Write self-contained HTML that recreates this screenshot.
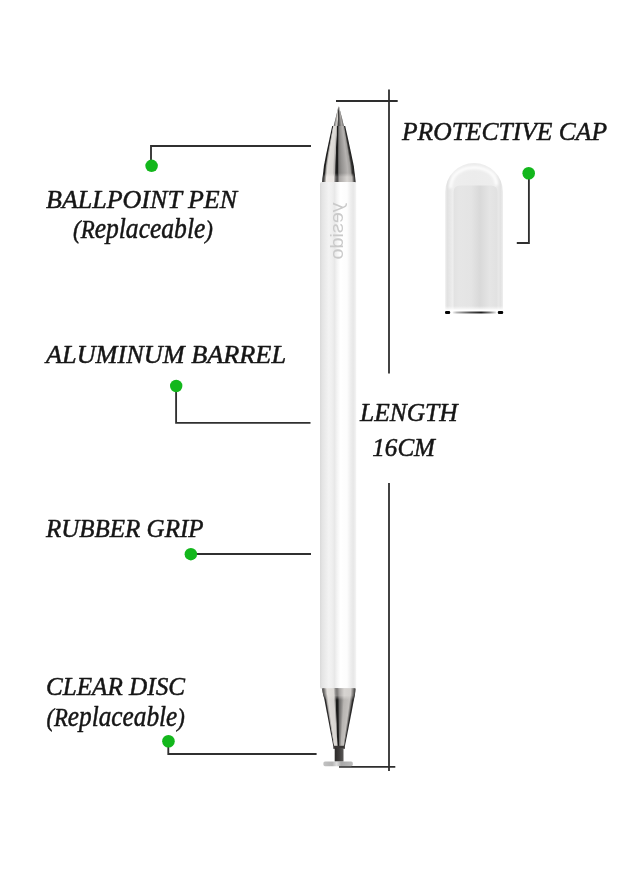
<!DOCTYPE html>
<html>
<head>
<meta charset="utf-8">
<title>Stylus pen diagram</title>
<style>
  html, body { margin: 0; padding: 0; background: #ffffff; }
  body { width: 640px; height: 873px; overflow: hidden; font-family: "Liberation Serif", serif; }
  svg { display: block; }
  .lbl { font-family: "Liberation Serif", serif; font-style: italic; fill: #161616; stroke: #161616; stroke-width: 0.5px; stroke-linejoin: round; }
  .lc { font-size: 29px; }
  .logo { font-family: "Liberation Sans", sans-serif; fill: #cacaca; }
</style>
</head>
<body>
<svg width="640" height="873" viewBox="0 0 640 873">
  <defs>
    <linearGradient id="gnib" x1="0" x2="1" y1="0" y2="0"><stop offset="0.000" stop-color="#464544"/><stop offset="0.120" stop-color="#a09e9b"/><stop offset="0.320" stop-color="#dcd9d5"/><stop offset="0.420" stop-color="#3c3b3a"/><stop offset="0.520" stop-color="#5a5957"/><stop offset="0.800" stop-color="#afacaa"/><stop offset="0.920" stop-color="#82807e"/><stop offset="1.000" stop-color="#464544"/></linearGradient>
    <linearGradient id="gtop" x1="0" x2="1" y1="0" y2="0"><stop offset="0.000" stop-color="#1e1e1d"/><stop offset="0.050" stop-color="#222121"/><stop offset="0.085" stop-color="#a5a3a0"/><stop offset="0.130" stop-color="#e2dfdb"/><stop offset="0.300" stop-color="#dad7d3"/><stop offset="0.370" stop-color="#aaa7a5"/><stop offset="0.400" stop-color="#1e1e1d"/><stop offset="0.455" stop-color="#1a1a19"/><stop offset="0.500" stop-color="#7d7b79"/><stop offset="0.600" stop-color="#969492"/><stop offset="0.780" stop-color="#b6b3b1"/><stop offset="0.870" stop-color="#a09e9b"/><stop offset="0.930" stop-color="#323130"/><stop offset="1.000" stop-color="#1a1a19"/></linearGradient>
    <linearGradient id="gband" x1="0" x2="1" y1="0" y2="0"><stop offset="0.000" stop-color="#282727"/><stop offset="0.050" stop-color="#5a5957"/><stop offset="0.120" stop-color="#f0ece9"/><stop offset="0.340" stop-color="#ebe7e4"/><stop offset="0.400" stop-color="#6e6c6b"/><stop offset="0.450" stop-color="#464544"/><stop offset="0.520" stop-color="#aaa7a5"/><stop offset="0.750" stop-color="#d7d4d1"/><stop offset="0.900" stop-color="#bebbb8"/><stop offset="0.960" stop-color="#504f4e"/><stop offset="1.000" stop-color="#242323"/></linearGradient>
    <linearGradient id="gbot" x1="0" x2="1" y1="0" y2="0"><stop offset="0.000" stop-color="#242323"/><stop offset="0.040" stop-color="#2c2b2b"/><stop offset="0.080" stop-color="#aaa7a5"/><stop offset="0.130" stop-color="#dedbd7"/><stop offset="0.320" stop-color="#d6d3d0"/><stop offset="0.370" stop-color="#82807e"/><stop offset="0.395" stop-color="#1c1c1b"/><stop offset="0.455" stop-color="#1a1a19"/><stop offset="0.500" stop-color="#696766"/><stop offset="0.580" stop-color="#8c8a88"/><stop offset="0.660" stop-color="#b8b5b2"/><stop offset="0.850" stop-color="#c4c1be"/><stop offset="0.910" stop-color="#787674"/><stop offset="0.955" stop-color="#2c2b2b"/><stop offset="1.000" stop-color="#242323"/></linearGradient>
    <linearGradient id="gbotband" x1="0" x2="1" y1="0" y2="0"><stop offset="0.000" stop-color="#464544"/><stop offset="0.060" stop-color="#82807e"/><stop offset="0.140" stop-color="#e4e1dd"/><stop offset="0.340" stop-color="#dcd9d5"/><stop offset="0.390" stop-color="#969492"/><stop offset="0.440" stop-color="#787674"/><stop offset="0.520" stop-color="#aaa7a5"/><stop offset="0.660" stop-color="#d7d4d1"/><stop offset="0.860" stop-color="#d2cfcc"/><stop offset="0.940" stop-color="#787674"/><stop offset="1.000" stop-color="#3c3b3a"/></linearGradient>
    <linearGradient id="body" x1="0" x2="1" y1="0" y2="0">
      <stop offset="0" stop-color="#d9d9d9"/>
      <stop offset="0.06" stop-color="#e4e4e4"/>
      <stop offset="0.24" stop-color="#f3f3f3"/>
      <stop offset="0.33" stop-color="#efefef"/>
      <stop offset="0.40" stop-color="#e8e8e8"/>
      <stop offset="0.47" stop-color="#f4f4f4"/>
      <stop offset="0.56" stop-color="#ffffff"/>
      <stop offset="0.74" stop-color="#fdfdfd"/>
      <stop offset="0.84" stop-color="#eeeeee"/>
      <stop offset="0.91" stop-color="#e7e7e7"/>
      <stop offset="0.97" stop-color="#f0f0f0"/>
      <stop offset="1" stop-color="#fafafa"/>
    </linearGradient>
    <linearGradient id="metal" x1="0" x2="1" y1="0" y2="0">
      <stop offset="0" stop-color="#2e2a28"/>
      <stop offset="0.12" stop-color="#5a5552"/>
      <stop offset="0.22" stop-color="#d8d6d4"/>
      <stop offset="0.36" stop-color="#efeeed"/>
      <stop offset="0.44" stop-color="#3a3634"/>
      <stop offset="0.52" stop-color="#8a8683"/>
      <stop offset="0.70" stop-color="#b9b6b3"/>
      <stop offset="0.88" stop-color="#7a7673"/>
      <stop offset="1" stop-color="#2e2a28"/>
    </linearGradient>
    <linearGradient id="cap" x1="0" x2="1" y1="0" y2="0">
      <stop offset="0" stop-color="#ededed"/>
      <stop offset="0.04" stop-color="#e2e2e2"/>
      <stop offset="0.13" stop-color="#eeeeee"/>
      <stop offset="0.5" stop-color="#ececec"/>
      <stop offset="0.87" stop-color="#eeeeee"/>
      <stop offset="0.96" stop-color="#e2e2e2"/>
      <stop offset="1" stop-color="#efefef"/>
    </linearGradient>
    <linearGradient id="capin" x1="0" x2="1" y1="0" y2="0">
      <stop offset="0" stop-color="#e2e2e2"/>
      <stop offset="0.12" stop-color="#e6e6e6"/>
      <stop offset="0.40" stop-color="#e4e4e4"/>
      <stop offset="0.60" stop-color="#d9d9d9"/>
      <stop offset="0.82" stop-color="#e5e5e5"/>
      <stop offset="1" stop-color="#e1e1e1"/>
    </linearGradient>
    <linearGradient id="capfade" x1="0" x2="0" y1="0" y2="1">
      <stop offset="0" stop-color="#ffffff" stop-opacity="0"/>
      <stop offset="1" stop-color="#ffffff" stop-opacity="0.9"/>
    </linearGradient>
    <linearGradient id="capmid" x1="0" x2="1" y1="0" y2="0">
      <stop offset="0" stop-color="#f4f4f4"/>
      <stop offset="0.1" stop-color="#b4b4b4"/>
      <stop offset="0.4" stop-color="#555555"/>
      <stop offset="0.65" stop-color="#1e1e1e"/>
      <stop offset="0.87" stop-color="#8c8c8c"/>
      <stop offset="1" stop-color="#f0f0f0"/>
    </linearGradient>
    <filter id="soft" x="-20%" y="-20%" width="140%" height="140%"><feGaussianBlur stdDeviation="0.9"/></filter>
    
    <linearGradient id="stem" x1="0" x2="1" y1="0" y2="0">
      <stop offset="0" stop-color="#2c2a29"/>
      <stop offset="0.5" stop-color="#3e3c3b"/>
      <stop offset="1" stop-color="#5a5857"/>
    </linearGradient>
    <linearGradient id="disc" x1="0" x2="1" y1="0" y2="0">
      <stop offset="0" stop-color="#c2c2c2"/>
      <stop offset="0.3" stop-color="#b4b4b4"/>
      <stop offset="0.45" stop-color="#dedede"/>
      <stop offset="0.6" stop-color="#a8a8a8"/>
      <stop offset="1" stop-color="#bcbcbc"/>
    </linearGradient>
  </defs>

  <!-- dimension lines -->
  <g stroke="#2e2e2e" stroke-width="1.8" fill="none">
    <line x1="389" y1="89.5" x2="389" y2="373.5"/>
    <line x1="389" y1="483" x2="389" y2="771"/>
    <line x1="336" y1="101" x2="397.7" y2="101"/>
    <line x1="339" y1="766.9" x2="395.3" y2="766.9"/>
  </g>

  <!-- leader lines -->
  <g stroke="#303030" stroke-width="1.85" fill="none" stroke-linejoin="miter">
    <polyline points="151,166 151,146 311,146"/>
    <polyline points="176.1,386 176.1,422.9 310.5,422.9"/>
    <line x1="191" y1="554" x2="311" y2="554"/>
    <polyline points="168.3,741 168.3,754 316.6,754"/>
    <polyline points="528.9,173 528.9,243 516.8,243"/>
  </g>
  <g fill="#13b71c">
    <circle cx="151.6" cy="165.8" r="6.25"/>
    <circle cx="176.2" cy="386" r="6.2"/>
    <circle cx="190.85" cy="554.2" r="6.25"/>
    <circle cx="168.45" cy="741.3" r="6.3"/>
    <circle cx="528.7" cy="173.3" r="6.3"/>
  </g>

  <!-- pen -->
  <g shape-rendering="geometricPrecision">
    <polygon fill="url(#gnib)" points="338.40,106.00 338.90,106.00 339.15,107.00 338.20,107.00"/>
    <polygon fill="url(#gnib)" points="338.20,107.00 339.15,107.00 339.40,108.00 338.00,108.00"/>
    <polygon fill="url(#gnib)" points="338.00,108.00 339.40,108.00 339.65,109.00 337.80,109.00"/>
    <polygon fill="url(#gnib)" points="337.80,109.00 339.65,109.00 339.90,110.00 337.60,110.00"/>
    <polygon fill="url(#gnib)" points="337.60,110.00 339.90,110.00 340.16,111.00 337.35,111.00"/>
    <polygon fill="url(#gnib)" points="337.35,111.00 340.16,111.00 340.42,112.00 337.10,112.00"/>
    <polygon fill="url(#gnib)" points="337.10,112.00 340.42,112.00 340.69,113.00 336.85,113.00"/>
    <polygon fill="url(#gnib)" points="336.85,113.00 340.69,113.00 340.95,114.00 336.60,114.00"/>
    <polygon fill="url(#gnib)" points="336.60,114.00 340.95,114.00 341.21,115.00 336.35,115.00"/>
    <polygon fill="url(#gnib)" points="336.35,115.00 341.21,115.00 341.48,116.00 336.10,116.00"/>
    <polygon fill="url(#gnib)" points="336.10,116.00 341.48,116.00 341.74,117.00 335.85,117.00"/>
    <polygon fill="url(#gnib)" points="335.85,117.00 341.74,117.00 342.00,118.00 335.60,118.00"/>
    <polygon fill="url(#gnib)" points="335.60,118.00 342.00,118.00 342.24,119.00 335.36,119.00"/>
    <polygon fill="url(#gnib)" points="335.36,119.00 342.24,119.00 342.48,120.00 335.12,120.00"/>
    <polygon fill="url(#gnib)" points="335.12,120.00 342.48,120.00 342.72,121.00 334.88,121.00"/>
    <polygon fill="url(#gnib)" points="334.88,121.00 342.72,121.00 342.96,122.00 334.64,122.00"/>
    <polygon fill="url(#gnib)" points="334.64,122.00 342.96,122.00 343.20,123.00 334.40,123.00"/>
    <polygon fill="url(#gnib)" points="334.40,123.00 343.20,123.00 343.45,124.00 334.15,124.00"/>
    <polygon fill="url(#gnib)" points="334.15,124.00 343.45,124.00 343.69,125.00 333.91,125.00"/>
    <polygon fill="url(#gnib)" points="333.91,125.00 343.69,125.00 343.93,126.00 333.67,126.00"/>
    <polygon fill="url(#gnib)" points="333.67,126.00 343.93,126.00 344.00,126.30 333.60,126.30"/>
    <polygon fill="url(#gtop)" points="332.20,126.00 345.20,126.00 345.42,127.00 331.99,127.00"/>
    <polygon fill="url(#gtop)" points="331.99,127.00 345.42,127.00 345.64,128.00 331.77,128.00"/>
    <polygon fill="url(#gtop)" points="331.77,128.00 345.64,128.00 345.86,129.00 331.56,129.00"/>
    <polygon fill="url(#gtop)" points="331.56,129.00 345.86,129.00 346.09,130.00 331.34,130.00"/>
    <polygon fill="url(#gtop)" points="331.34,130.00 346.09,130.00 346.31,131.00 331.13,131.00"/>
    <polygon fill="url(#gtop)" points="331.13,131.00 346.31,131.00 346.53,132.00 330.91,132.00"/>
    <polygon fill="url(#gtop)" points="330.91,132.00 346.53,132.00 346.75,133.00 330.70,133.00"/>
    <polygon fill="url(#gtop)" points="330.70,133.00 346.75,133.00 346.97,134.00 330.49,134.00"/>
    <polygon fill="url(#gtop)" points="330.49,134.00 346.97,134.00 347.19,135.00 330.27,135.00"/>
    <polygon fill="url(#gtop)" points="330.27,135.00 347.19,135.00 347.41,136.00 330.06,136.00"/>
    <polygon fill="url(#gtop)" points="330.06,136.00 347.41,136.00 347.64,137.00 329.84,137.00"/>
    <polygon fill="url(#gtop)" points="329.84,137.00 347.64,137.00 347.86,138.00 329.63,138.00"/>
    <polygon fill="url(#gtop)" points="329.63,138.00 347.86,138.00 348.08,139.00 329.41,139.00"/>
    <polygon fill="url(#gtop)" points="329.41,139.00 348.08,139.00 348.30,140.00 329.20,140.00"/>
    <polygon fill="url(#gtop)" points="329.20,140.00 348.30,140.00 348.51,141.00 328.99,141.00"/>
    <polygon fill="url(#gtop)" points="328.99,141.00 348.51,141.00 348.73,142.00 328.77,142.00"/>
    <polygon fill="url(#gtop)" points="328.77,142.00 348.73,142.00 348.94,143.00 328.56,143.00"/>
    <polygon fill="url(#gtop)" points="328.56,143.00 348.94,143.00 349.15,144.00 328.35,144.00"/>
    <polygon fill="url(#gtop)" points="328.35,144.00 349.15,144.00 349.37,145.00 328.13,145.00"/>
    <polygon fill="url(#gtop)" points="328.13,145.00 349.37,145.00 349.58,146.00 327.92,146.00"/>
    <polygon fill="url(#gtop)" points="327.92,146.00 349.58,146.00 349.79,147.00 327.71,147.00"/>
    <polygon fill="url(#gtop)" points="327.71,147.00 349.79,147.00 350.01,148.00 327.49,148.00"/>
    <polygon fill="url(#gtop)" points="327.49,148.00 350.01,148.00 350.22,149.00 327.28,149.00"/>
    <polygon fill="url(#gtop)" points="327.28,149.00 350.22,149.00 350.43,150.00 327.07,150.00"/>
    <polygon fill="url(#gtop)" points="327.07,150.00 350.43,150.00 350.65,151.00 326.85,151.00"/>
    <polygon fill="url(#gtop)" points="326.85,151.00 350.65,151.00 350.86,152.00 326.64,152.00"/>
    <polygon fill="url(#gtop)" points="326.64,152.00 350.86,152.00 351.07,153.00 326.43,153.00"/>
    <polygon fill="url(#gtop)" points="326.43,153.00 351.07,153.00 351.29,154.00 326.21,154.00"/>
    <polygon fill="url(#gtop)" points="326.21,154.00 351.29,154.00 351.50,155.00 326.00,155.00"/>
    <polygon fill="url(#gtop)" points="326.00,155.00 351.50,155.00 351.71,156.00 325.81,156.00"/>
    <polygon fill="url(#gtop)" points="325.81,156.00 351.71,156.00 351.92,157.00 325.62,157.00"/>
    <polygon fill="url(#gtop)" points="325.62,157.00 351.92,157.00 352.13,158.00 325.43,158.00"/>
    <polygon fill="url(#gtop)" points="325.43,158.00 352.13,158.00 352.34,159.00 325.24,159.00"/>
    <polygon fill="url(#gtop)" points="325.24,159.00 352.34,159.00 352.55,160.00 325.05,160.00"/>
    <polygon fill="url(#gtop)" points="325.05,160.00 352.55,160.00 352.75,161.00 324.85,161.00"/>
    <polygon fill="url(#gtop)" points="324.85,161.00 352.75,161.00 352.96,162.00 324.66,162.00"/>
    <polygon fill="url(#gtop)" points="324.66,162.00 352.96,162.00 353.17,163.00 324.47,163.00"/>
    <polygon fill="url(#gtop)" points="324.47,163.00 353.17,163.00 353.38,164.00 324.28,164.00"/>
    <polygon fill="url(#gtop)" points="324.28,164.00 353.38,164.00 353.59,165.00 324.09,165.00"/>
    <polygon fill="url(#gtop)" points="324.09,165.00 353.59,165.00 353.80,166.00 323.90,166.00"/>
    <polygon fill="url(#gtop)" points="323.90,166.00 353.80,166.00 353.92,167.00 323.79,167.00"/>
    <polygon fill="url(#gtop)" points="323.79,167.00 353.92,167.00 354.04,168.00 323.68,168.00"/>
    <polygon fill="url(#gtop)" points="323.68,168.00 354.04,168.00 354.16,169.00 323.57,169.00"/>
    <polygon fill="url(#gtop)" points="323.57,169.00 354.16,169.00 354.28,170.00 323.46,170.00"/>
    <polygon fill="url(#gtop)" points="323.46,170.00 354.28,170.00 354.40,171.00 323.35,171.00"/>
    <polygon fill="url(#gtop)" points="323.35,171.00 354.40,171.00 354.52,172.00 323.24,172.00"/>
    <polygon fill="url(#gtop)" points="323.24,172.00 354.52,172.00 354.64,173.00 323.13,173.00"/>
    <polygon fill="url(#gtop)" points="323.13,173.00 354.64,173.00 354.76,174.00 323.02,174.00"/>
    <polygon fill="url(#gtop)" points="323.02,174.00 354.76,174.00 354.88,175.00 322.91,175.00"/>
    <polygon fill="url(#gtop)" points="322.91,175.00 354.88,175.00 355.00,176.00 322.80,176.00"/>
    <polygon fill="url(#gtop)" points="322.80,176.00 355.00,176.00 355.06,177.00 322.72,177.00"/>
    <polygon fill="url(#gtop)" points="322.72,177.00 355.06,177.00 355.12,178.00 322.65,178.00"/>
    <polygon fill="url(#gtop)" points="322.65,178.00 355.12,178.00 355.18,179.00 322.57,179.00"/>
    <polygon fill="url(#gtop)" points="322.57,179.00 355.18,179.00 355.25,180.00 322.49,180.00"/>
    <polygon fill="url(#gtop)" points="322.49,180.00 355.25,180.00 355.31,181.00 322.42,181.00"/>
    <polygon fill="url(#gtop)" points="322.42,181.00 355.31,181.00 355.37,182.00 322.34,182.00"/>
    <polygon fill="url(#gtop)" points="322.34,182.00 355.37,182.00 355.40,182.50 322.30,182.50"/>
    <polygon fill="url(#gband)" opacity="0.12" points="323.10,173.00 354.70,173.00 354.80,174.00 323.00,174.00"/>
    <polygon fill="url(#gband)" opacity="0.38" points="323.00,174.00 354.80,174.00 354.90,175.00 322.90,175.00"/>
    <polygon fill="url(#gband)" opacity="0.62" points="322.90,175.00 354.90,175.00 355.00,176.00 322.80,176.00"/>
    <polygon fill="url(#gband)" opacity="0.88" points="322.80,176.00 355.00,176.00 355.06,177.00 322.72,177.00"/>
    <polygon fill="url(#gband)" points="322.72,177.00 355.06,177.00 355.12,178.00 322.65,178.00"/>
    <polygon fill="url(#gband)" points="322.65,178.00 355.12,178.00 355.18,179.00 322.57,179.00"/>
    <polygon fill="url(#gband)" points="322.57,179.00 355.18,179.00 355.25,180.00 322.49,180.00"/>
    <polygon fill="url(#gband)" points="322.49,180.00 355.25,180.00 355.31,181.00 322.42,181.00"/>
    <polygon fill="url(#gband)" points="322.42,181.00 355.31,181.00 355.37,182.00 322.34,182.00"/>
    <polygon fill="url(#gband)" points="322.34,182.00 355.37,182.00 355.40,182.50 322.30,182.50"/>
  </g>
  <rect x="320" y="182" width="36.5" height="507" rx="2" fill="url(#body)"/>
  <g shape-rendering="geometricPrecision">
    <polygon fill="url(#gbot)" points="322.30,688.50 355.40,688.50 355.37,689.00 322.36,689.00"/>
    <polygon fill="url(#gbot)" points="322.36,689.00 355.37,689.00 355.30,690.00 322.47,690.00"/>
    <polygon fill="url(#gbot)" points="322.47,690.00 355.30,690.00 355.23,691.00 322.58,691.00"/>
    <polygon fill="url(#gbot)" points="322.58,691.00 355.23,691.00 355.17,692.00 322.69,692.00"/>
    <polygon fill="url(#gbot)" points="322.69,692.00 355.17,692.00 355.10,693.00 322.80,693.00"/>
    <polygon fill="url(#gbot)" points="322.80,693.00 355.10,693.00 354.94,694.00 323.05,694.00"/>
    <polygon fill="url(#gbot)" points="323.05,694.00 354.94,694.00 354.77,695.00 323.31,695.00"/>
    <polygon fill="url(#gbot)" points="323.31,695.00 354.77,695.00 354.61,696.00 323.56,696.00"/>
    <polygon fill="url(#gbot)" points="323.56,696.00 354.61,696.00 354.45,697.00 323.82,697.00"/>
    <polygon fill="url(#gbot)" points="323.82,697.00 354.45,697.00 354.28,698.00 324.07,698.00"/>
    <polygon fill="url(#gbot)" points="324.07,698.00 354.28,698.00 354.10,699.00 324.30,699.00"/>
    <polygon fill="url(#gbot)" points="324.30,699.00 354.10,699.00 353.91,700.00 324.49,700.00"/>
    <polygon fill="url(#gbot)" points="324.49,700.00 353.91,700.00 353.72,701.00 324.68,701.00"/>
    <polygon fill="url(#gbot)" points="324.68,701.00 353.72,701.00 353.53,702.00 324.87,702.00"/>
    <polygon fill="url(#gbot)" points="324.87,702.00 353.53,702.00 353.34,703.00 325.06,703.00"/>
    <polygon fill="url(#gbot)" points="325.06,703.00 353.34,703.00 353.15,704.00 325.25,704.00"/>
    <polygon fill="url(#gbot)" points="325.25,704.00 353.15,704.00 352.96,705.00 325.44,705.00"/>
    <polygon fill="url(#gbot)" points="325.44,705.00 352.96,705.00 352.77,706.00 325.63,706.00"/>
    <polygon fill="url(#gbot)" points="325.63,706.00 352.77,706.00 352.57,707.00 325.83,707.00"/>
    <polygon fill="url(#gbot)" points="325.83,707.00 352.57,707.00 352.38,708.00 326.02,708.00"/>
    <polygon fill="url(#gbot)" points="326.02,708.00 352.38,708.00 352.19,709.00 326.21,709.00"/>
    <polygon fill="url(#gbot)" points="326.21,709.00 352.19,709.00 352.00,710.00 326.40,710.00"/>
    <polygon fill="url(#gbot)" points="326.40,710.00 352.00,710.00 351.81,711.00 326.59,711.00"/>
    <polygon fill="url(#gbot)" points="326.59,711.00 351.81,711.00 351.61,712.00 326.78,712.00"/>
    <polygon fill="url(#gbot)" points="326.78,712.00 351.61,712.00 351.42,713.00 326.97,713.00"/>
    <polygon fill="url(#gbot)" points="326.97,713.00 351.42,713.00 351.22,714.00 327.16,714.00"/>
    <polygon fill="url(#gbot)" points="327.16,714.00 351.22,714.00 351.02,715.00 327.35,715.00"/>
    <polygon fill="url(#gbot)" points="327.35,715.00 351.02,715.00 350.83,716.00 327.54,716.00"/>
    <polygon fill="url(#gbot)" points="327.54,716.00 350.83,716.00 350.63,717.00 327.73,717.00"/>
    <polygon fill="url(#gbot)" points="327.73,717.00 350.63,717.00 350.44,718.00 327.92,718.00"/>
    <polygon fill="url(#gbot)" points="327.92,718.00 350.44,718.00 350.25,719.00 328.11,719.00"/>
    <polygon fill="url(#gbot)" points="328.11,719.00 350.25,719.00 350.05,720.00 328.30,720.00"/>
    <polygon fill="url(#gbot)" points="328.30,720.00 350.05,720.00 349.86,721.00 328.49,721.00"/>
    <polygon fill="url(#gbot)" points="328.49,721.00 349.86,721.00 349.66,722.00 328.68,722.00"/>
    <polygon fill="url(#gbot)" points="328.68,722.00 349.66,722.00 349.47,723.00 328.87,723.00"/>
    <polygon fill="url(#gbot)" points="328.87,723.00 349.47,723.00 349.27,724.00 329.06,724.00"/>
    <polygon fill="url(#gbot)" points="329.06,724.00 349.27,724.00 349.08,725.00 329.25,725.00"/>
    <polygon fill="url(#gbot)" points="329.25,725.00 349.08,725.00 348.88,726.00 329.44,726.00"/>
    <polygon fill="url(#gbot)" points="329.44,726.00 348.88,726.00 348.69,727.00 329.63,727.00"/>
    <polygon fill="url(#gbot)" points="329.63,727.00 348.69,727.00 348.49,728.00 329.82,728.00"/>
    <polygon fill="url(#gbot)" points="329.82,728.00 348.49,728.00 348.30,729.00 330.01,729.00"/>
    <polygon fill="url(#gbot)" points="330.01,729.00 348.30,729.00 348.10,730.00 330.20,730.00"/>
    <polygon fill="url(#gbot)" points="330.20,730.00 348.10,730.00 347.90,731.00 330.39,731.00"/>
    <polygon fill="url(#gbot)" points="330.39,731.00 347.90,731.00 347.70,732.00 330.58,732.00"/>
    <polygon fill="url(#gbot)" points="330.58,732.00 347.70,732.00 347.51,733.00 330.77,733.00"/>
    <polygon fill="url(#gbot)" points="330.77,733.00 347.51,733.00 347.31,734.00 330.97,734.00"/>
    <polygon fill="url(#gbot)" points="330.97,734.00 347.31,734.00 347.11,735.00 331.16,735.00"/>
    <polygon fill="url(#gbot)" points="331.16,735.00 347.11,735.00 346.91,736.00 331.35,736.00"/>
    <polygon fill="url(#gbot)" points="331.35,736.00 346.91,736.00 346.72,737.00 331.54,737.00"/>
    <polygon fill="url(#gbot)" points="331.54,737.00 346.72,737.00 346.52,738.00 331.73,738.00"/>
    <polygon fill="url(#gbot)" points="331.73,738.00 346.52,738.00 346.32,739.00 331.92,739.00"/>
    <polygon fill="url(#gbot)" points="331.92,739.00 346.32,739.00 346.12,740.00 332.11,740.00"/>
    <polygon fill="url(#gbot)" points="332.11,740.00 346.12,740.00 345.93,741.00 332.30,741.00"/>
    <polygon fill="url(#gbot)" points="332.30,741.00 345.93,741.00 345.73,742.00 332.50,742.00"/>
    <polygon fill="url(#gbot)" points="332.50,742.00 345.73,742.00 345.53,743.00 332.69,743.00"/>
    <polygon fill="url(#gbot)" points="332.69,743.00 345.53,743.00 345.33,744.00 332.88,744.00"/>
    <polygon fill="url(#gbot)" points="332.88,744.00 345.33,744.00 345.14,745.00 333.07,745.00"/>
    <polygon fill="url(#gbot)" points="333.07,745.00 345.14,745.00 344.94,746.00 333.26,746.00"/>
    <polygon fill="url(#gbot)" points="333.26,746.00 344.94,746.00 344.90,746.20 333.30,746.20"/>
    <polygon fill="url(#gbotband)" points="322.30,688.50 355.40,688.50 355.37,689.00 322.36,689.00"/>
    <polygon fill="url(#gbotband)" points="322.36,689.00 355.37,689.00 355.30,690.00 322.47,690.00"/>
    <polygon fill="url(#gbotband)" points="322.47,690.00 355.30,690.00 355.23,691.00 322.58,691.00"/>
    <polygon fill="url(#gbotband)" points="322.58,691.00 355.23,691.00 355.17,692.00 322.69,692.00"/>
    <polygon fill="url(#gbotband)" points="322.69,692.00 355.17,692.00 355.10,693.00 322.80,693.00"/>
    <polygon fill="url(#gbotband)" points="322.80,693.00 355.10,693.00 354.94,694.00 323.05,694.00"/>
    <polygon fill="url(#gbotband)" points="323.05,694.00 354.94,694.00 354.77,695.00 323.31,695.00"/>
    <polygon fill="url(#gbotband)" points="323.31,695.00 354.77,695.00 354.61,696.00 323.56,696.00"/>
    <polygon fill="url(#gbotband)" opacity="0.78" points="323.56,696.00 354.61,696.00 354.45,697.00 323.82,697.00"/>
    <polygon fill="url(#gbotband)" opacity="0.56" points="323.82,697.00 354.45,697.00 354.28,698.00 324.07,698.00"/>
    <polygon fill="url(#gbotband)" opacity="0.33" points="324.07,698.00 354.28,698.00 354.10,699.00 324.30,699.00"/>
    <polygon fill="url(#gbotband)" opacity="0.12" points="324.30,699.00 354.10,699.00 353.90,700.00 324.50,700.00"/>
  </g>
  <rect x="333.3" y="745.8" width="11.6" height="3" fill="#3a3736"/>
  <rect x="334.7" y="748" width="8.8" height="13.6" fill="url(#stem)"/>
  <rect x="323.4" y="761.4" width="29.4" height="4.8" rx="1.6" fill="url(#disc)"/>

  <g opacity="0.999"><text class="logo" font-size="18.5" transform="translate(343.4,202.5) scale(-1,1) rotate(90)" x="0" y="0" textLength="57" lengthAdjust="spacingAndGlyphs">yesido</text></g>

  <!-- cap -->
  <path d="M445.2,309.8 L445.2,192 A28.9,28.9 0 0 1 503,192 L503,309.8 Z" fill="url(#cap)"/>
  <path d="M453.6,309.4 L453.6,192 Q453.6,185.5 460,185.5 L491,185.5 Q497.6,185.5 497.6,192 L497.6,309.4 Z" fill="url(#capin)"/>
  <path d="M450.5,187 Q451.5,173 466,168.5 Q481,165.5 491,173 Q496,178 496.5,184" fill="none" stroke="#ffffff" stroke-opacity="0.85" stroke-width="3.2" stroke-linecap="round" filter="url(#soft)"/>
  <rect x="445" y="306" width="58.3" height="4.2" fill="url(#capfade)"/>
  <rect x="452.5" y="311.4" width="44" height="2.2" rx="1.1" fill="url(#capmid)"/>
  <rect x="445" y="311" width="5.2" height="2.9" rx="1.2" fill="#050505"/>
  <rect x="497.8" y="311" width="5.4" height="2.9" rx="1.2" fill="#050505"/>

  <!-- labels -->
  <g opacity="0.999">
  <text class="lbl" x="46" y="208" font-size="26" textLength="191" lengthAdjust="spacingAndGlyphs">BALLPOINT PEN</text>
  <text class="lbl" x="73" y="238" font-size="26" textLength="140" lengthAdjust="spacingAndGlyphs">(R<tspan class="lc">eplaceable</tspan>)</text>
  <text class="lbl" x="46" y="363" font-size="26" textLength="240" lengthAdjust="spacingAndGlyphs">ALUMINUM BARREL</text>
  <text class="lbl" x="46" y="536.6" font-size="26" textLength="157.5" lengthAdjust="spacingAndGlyphs">RUBBER GRIP</text>
  <text class="lbl" x="46" y="695" font-size="26" textLength="139" lengthAdjust="spacingAndGlyphs">CLEAR DISC</text>
  <text class="lbl" x="46.4" y="725.6" font-size="26" textLength="138.5" lengthAdjust="spacingAndGlyphs">(R<tspan class="lc">eplaceable</tspan>)</text>
  <text class="lbl" x="402" y="140.3" font-size="26" textLength="205" lengthAdjust="spacingAndGlyphs">PROTECTIVE CAP</text>
  <text class="lbl" x="360" y="421" font-size="26" textLength="97.5" lengthAdjust="spacingAndGlyphs">LENGTH</text>
  <text class="lbl" x="372.3" y="455.5" font-size="26" textLength="62.7" lengthAdjust="spacingAndGlyphs">16CM</text>
  </g>
</svg>
</body>
</html>
